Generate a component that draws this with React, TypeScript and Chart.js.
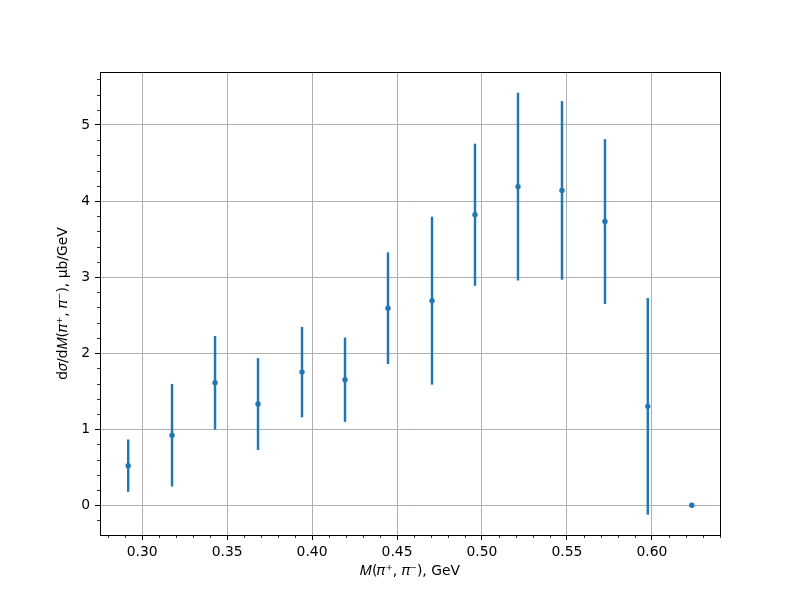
import { useEffect, useRef } from "react";
import { Chart, registerables } from "chart.js";

Chart.register(...registerables);

// Data
const massValues = [0.2918, 0.3176, 0.3429, 0.3682, 0.3941, 0.4194, 0.4447, 0.4706, 0.4959, 0.5212, 0.5471, 0.5724, 0.5976, 0.6235];
const crossSection = [0.52, 0.92, 1.61, 1.33, 1.75, 1.65, 2.59, 2.69, 3.82, 4.19, 4.14, 3.73, 1.30, 0.0];
const crossSectionErr = [0.34, 0.67, 0.61, 0.60, 0.59, 0.55, 0.73, 1.10, 0.93, 1.23, 1.17, 1.08, 1.42, 0.0];

const xTitle = "𝑀(𝜋⁺, 𝜋⁻), GeV";
const yTitle = "d𝜎/d𝑀(𝜋⁺, 𝜋⁻), μb/GeV";

const X_MIN = 0.2752;
const X_MAX = 0.6401;
const Y_MIN = -0.392;
const Y_MAX = 5.697;

const BLUE = "#1f77b4";
const FONT = { family: "DejaVu Sans", size: 13.9 };

const isMajorX = (v: number) => Math.abs(v / 0.05 - Math.round(v / 0.05)) < 1e-4;
const isMajorY = (v: number) => Math.abs(v - Math.round(v)) < 1e-4;

const framePlugin = {
  id: "frameAndMinor",
  afterDraw(chart: any) {
    const { ctx, chartArea } = chart;
    const { left, right, top, bottom } = chartArea;
    ctx.save();
    ctx.strokeStyle = "#000";
    ctx.lineWidth = 0.8;
    const xs = chart.scales.x;
    xs.ticks.forEach((t: any) => {
      if (isMajorX(t.value)) return;
      const px = Math.round(xs.getPixelForValue(t.value)) + 0.5;
      ctx.beginPath();
      ctx.moveTo(px, bottom);
      ctx.lineTo(px, bottom + 3);
      ctx.stroke();
    });
    const ys = chart.scales.y;
    ys.ticks.forEach((t: any) => {
      if (isMajorY(t.value)) return;
      const py = Math.round(ys.getPixelForValue(t.value)) + 0.5;
      ctx.beginPath();
      ctx.moveTo(left, py);
      ctx.lineTo(left - 3, py);
      ctx.stroke();
    });
    ctx.lineWidth = 1;
    ctx.strokeRect(Math.round(left) + 0.5, Math.round(top) + 0.5, Math.round(right - left), Math.round(bottom - top));
    ctx.restore();
  },
};

export default function App() {
  const canvasRef = useRef<HTMLCanvasElement | null>(null);

  useEffect(() => {
    if (!canvasRef.current) return;
    const points = massValues.map((m, i) => ({ x: m, y: crossSection[i] }));
    const bars = massValues
      .map((m, i) => ({ x: m, y: [crossSection[i] - crossSectionErr[i], crossSection[i] + crossSectionErr[i]] }))
      .filter((_, i) => crossSectionErr[i] > 0);

    const chart = new Chart(canvasRef.current, {
      type: "scatter",
      data: {
        datasets: [
          {
            type: "scatter",
            data: points,
            backgroundColor: BLUE,
            borderColor: BLUE,
            borderWidth: 0,
            pointRadius: 2.7,
            order: 0,
          } as any,
          {
            type: "bar",
            data: bars as any,
            backgroundColor: BLUE,
            borderWidth: 0,
            barThickness: 1.8,
            order: 1,
          } as any,
        ],
      },
      options: {
        responsive: false,
        animation: false,
        events: [],
        layout: { padding: { top: 72, right: 80, left: 0, bottom: 0 } },
        plugins: { legend: { display: false }, tooltip: { enabled: false } },
        scales: {
          x: {
            type: "linear",
            position: "bottom",
            min: X_MIN,
            max: X_MAX,
            offset: false,
            afterFit: (s: any) => {
              s.height = 65;
            },
            grid: {
              offset: false,
              color: (c: any) => (c.tick && isMajorX(c.tick.value) ? "#b0b0b0" : "rgba(0,0,0,0)"),
              tickColor: (c: any) => (c.tick && isMajorX(c.tick.value) ? "#000" : "rgba(0,0,0,0)"),
              lineWidth: 1,
              tickLength: 5,
            },
            border: { color: "#000", width: 1 },
            ticks: {
              stepSize: 0.01,
              includeBounds: false,
              autoSkip: false,
              maxRotation: 0,
              minRotation: 0,
              padding: 4,
              color: "#000",
              font: FONT,
              callback: (v: any) => (isMajorX(Number(v)) ? Number(v).toFixed(2) : ""),
            },
            title: {
              display: true,
              text: xTitle,
              color: "#000",
              font: FONT,
              padding: { top: 0, bottom: 20 },
            },
          },
          y: {
            type: "linear",
            position: "left",
            min: Y_MIN,
            max: Y_MAX,
            beginAtZero: false,
            afterFit: (s: any) => {
              s.width = 100;
            },
            grid: {
              color: (c: any) => (c.tick && isMajorY(c.tick.value) ? "#b0b0b0" : "rgba(0,0,0,0)"),
              tickColor: (c: any) => (c.tick && isMajorY(c.tick.value) ? "#000" : "rgba(0,0,0,0)"),
              lineWidth: 1,
              tickLength: 5,
            },
            border: { color: "#000", width: 1 },
            ticks: {
              stepSize: 0.2,
              includeBounds: false,
              autoSkip: false,
              padding: 5,
              color: "#000",
              font: FONT,
              callback: (v: any) => (isMajorY(Number(v)) ? String(Math.round(Number(v))) : ""),
            },
            title: {
              display: true,
              text: yTitle,
              color: "#000",
              font: FONT,
              padding: { top: 55, bottom: 0 },
            },
          },
        },
      },
      plugins: [framePlugin],
    });
    return () => chart.destroy();
  }, []);

  return (
    <div style={{ position: "absolute", left: 0, top: 0, width: 800, height: 600, background: "#fff" }}>
      <canvas ref={canvasRef} width={800} height={600} style={{ display: "block" }} />
    </div>
  );
}
